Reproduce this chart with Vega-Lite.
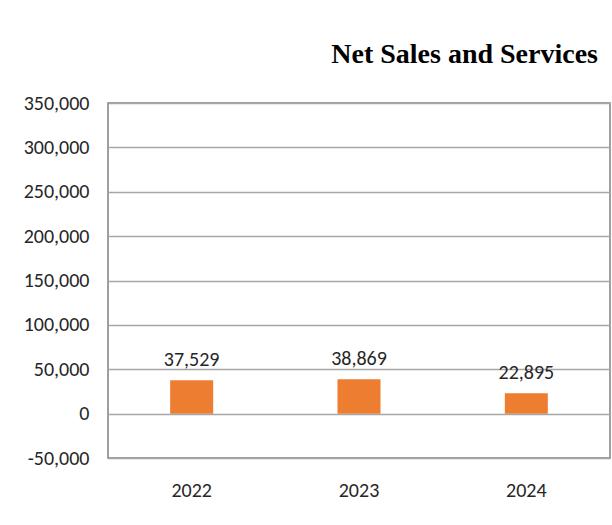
{
  "$schema": "https://vega.github.io/schema/vega-lite/v6.json",
  "width": 502,
  "height": 355,
  "autosize": {"type": "none"},
  "padding": {"left": 108, "top": 103, "right": 2, "bottom": 67},
  "background": "white",
  "title": {
    "text": "Net Sales and Services",
    "font": "Liberation Serif",
    "fontSize": 28,
    "fontWeight": "bold",
    "color": "#000000",
    "anchor": "end",
    "dx": -12,
    "offset": 24
  },
  "data": {
    "values": [
      {"year": "2022", "sales": 37529},
      {"year": "2023", "sales": 38869},
      {"year": "2024", "sales": 22895}
    ]
  },
  "config": {
    "view": {"stroke": "#808080", "strokeWidth": 1.5},
    "font": "Carlito, Liberation Sans"
  },
  "encoding": {
    "x": {
      "field": "year",
      "type": "nominal",
      "sort": null,
      "axis": {
        "title": null,
        "labelAngle": 0,
        "domain": false,
        "ticks": false,
        "labelPadding": 22,
        "labelFont": "Carlito, Liberation Sans",
        "labelFontSize": 20,
        "labelColor": "#262626"
      }
    },
    "y": {
      "field": "sales",
      "type": "quantitative",
      "scale": {"domain": [-50000, 350000], "nice": false, "zero": false},
      "axis": {
        "title": null,
        "values": [-50000, 0, 50000, 100000, 150000, 200000, 250000, 300000, 350000],
        "labelExpr": "replace(format(datum.value, ',d'), '\u2212', '-')",
        "domain": false,
        "ticks": false,
        "labelPadding": 19,
        "labelFont": "Carlito, Liberation Sans",
        "labelFontSize": 20,
        "labelColor": "#262626",
        "gridColor": "#a6a6a6",
        "gridWidth": 1.5
      }
    }
  },
  "layer": [
    {
      "mark": {"type": "bar", "color": "#ED7D31", "size": 43},
      "encoding": {"y": {"field": "sales", "type": "quantitative"}, "y2": {"datum": 0}}
    },
    {
      "mark": {"type": "text", "baseline": "bottom", "dy": -10, "fontSize": 20, "color": "#262626", "font": "Carlito, Liberation Sans"},
      "encoding": {"text": {"field": "sales", "type": "quantitative", "format": ",d"}}
    }
  ]
}
